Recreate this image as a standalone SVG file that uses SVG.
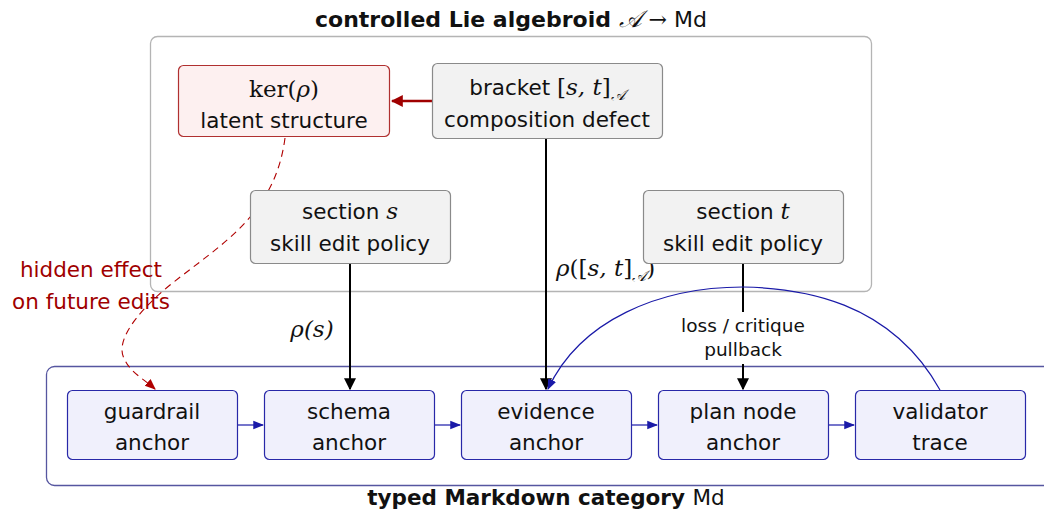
<svg xmlns="http://www.w3.org/2000/svg" width="1044" height="512" viewBox="0 0 1044 512">
<defs>
<style>
.t{font-family:"DejaVu Sans","Liberation Sans",sans-serif;font-size:21.5px;fill:#111;text-anchor:middle}
.m{font-family:"DejaVu Serif","Liberation Serif",serif;font-style:italic}
.mr{font-family:"DejaVu Serif","Liberation Serif",serif}
.b{font-weight:bold}
.gray{fill:#f2f2f2;stroke:#8a8a8a;stroke-width:1.2}
.red{fill:#fdf0f0;stroke:#b03030;stroke-width:1.2}
.blue{fill:#f0f0fc;stroke:#2828a8;stroke-width:1.2}
.blk{stroke:#000;stroke-width:2;fill:none}
.bl{stroke:#1a1aa8;stroke-width:1.2;fill:none}
</style>
<marker id="ak" viewBox="0 0 10 10" refX="9" refY="5" markerWidth="6" markerHeight="6" markerUnits="strokeWidth" orient="auto"><path d="M0,0 L10,5 L0,10 Z" fill="#000"/></marker>
<marker id="ab" viewBox="0 0 10 10" refX="9" refY="5" markerWidth="9" markerHeight="9" markerUnits="strokeWidth" orient="auto"><path d="M0,1 L10,5 L0,9 Z" fill="#1a1aa8"/></marker>
<marker id="ar" viewBox="0 0 10 10" refX="9" refY="5" markerWidth="5" markerHeight="5" markerUnits="strokeWidth" orient="auto"><path d="M0,0 L10,5 L0,10 Z" fill="#a00000"/></marker>
<marker id="ard" viewBox="0 0 10 10" refX="9" refY="5" markerWidth="10" markerHeight="10" markerUnits="strokeWidth" orient="auto"><path d="M0,1 L10,5 L0,9 Z" fill="#b00000"/></marker>
</defs>

<g id="frames">
<rect x="150.5" y="36.5" width="721" height="255" rx="7" fill="none" stroke="#b4b4b4" stroke-width="1.3"/>
<text x="511" y="27" class="t" style="font-size:22px"><tspan class="b">controlled Lie algebroid </tspan><tspan class="m" style="font-size:24px">𝒜</tspan><tspan class="mr"> → </tspan>Md</text>
<rect x="46.5" y="366.5" width="1010" height="119" rx="8" fill="none" stroke="#5656a0" stroke-width="1.3"/>
<text x="546" y="505" class="t" style="font-size:21.5px"><tspan class="b">typed Markdown category </tspan>Md</text>
</g>

<g id="connectors">
<line x1="432" y1="101" x2="392" y2="101" stroke="#a00000" stroke-width="2.4" marker-end="url(#ar)"/>
<line x1="546" y1="139" x2="546" y2="389" class="blk" marker-end="url(#ak)"/>
<line x1="350" y1="264" x2="350" y2="389" class="blk" marker-end="url(#ak)"/>
<line x1="743" y1="264" x2="743" y2="312" class="blk"/>
<line x1="743" y1="364" x2="743" y2="389" class="blk" marker-end="url(#ak)"/>
<path d="M940,390 C890,300 800,288 743,287 C660,287 580,320 548,389" class="bl" marker-end="url(#ab)"/>
<path d="M285,138 C275,215 220,245 170,285 C130,318 115,345 125,360 C130,372 145,380 155,389" fill="none" stroke="#b00000" stroke-width="1.1" stroke-dasharray="7,5" marker-end="url(#ard)"/>
<line x1="238" y1="425" x2="263" y2="425" class="bl" marker-end="url(#ab)"/>
<line x1="435" y1="425" x2="460" y2="425" class="bl" marker-end="url(#ab)"/>
<line x1="632" y1="425" x2="657" y2="425" class="bl" marker-end="url(#ab)"/>
<line x1="829" y1="425" x2="854" y2="425" class="bl" marker-end="url(#ab)"/>
<text x="312" y="337" class="t m" style="font-size:23px">ρ(s)</text>
<text x="556" y="276" class="t" style="font-size:23px;text-anchor:start"><tspan class="m">ρ</tspan><tspan class="mr">([</tspan><tspan class="m">s, t</tspan><tspan class="mr">]</tspan><tspan class="m" dy="5" style="font-size:15px">𝒜</tspan><tspan class="mr" dy="-5">)</tspan></text>
<rect x="676" y="313" width="134" height="50" fill="#fff"/>
<text x="743" y="332" class="t" style="font-size:18.5px">loss / critique</text>
<text x="743" y="356" class="t" style="font-size:18.5px">pullback</text>
<text x="91" y="277" class="t" style="fill:#a00000">hidden effect</text>
<text x="91" y="309" class="t" style="fill:#a00000">on future edits</text>
</g>

<g id="ker">
<rect x="178.5" y="65.5" width="211" height="71" rx="5" class="red"/>
<text x="284" y="97" class="t mr" style="font-style:normal;font-size:23px">ker(<tspan class="m">ρ</tspan>)</text>
<text x="284" y="128" class="t">latent structure</text>
</g>
<g id="bracket">
<rect x="432.5" y="63.5" width="230" height="75" rx="5" class="gray"/>
<text x="547" y="95" class="t">bracket <tspan class="mr" style="font-size:23px">[</tspan><tspan class="m" style="font-size:23px">s, t</tspan><tspan class="mr" style="font-size:23px">]</tspan><tspan class="m" dy="5" style="font-size:15px">𝒜</tspan></text>
<text x="547" y="127" class="t">composition defect</text>
</g>
<g id="section_s">
<rect x="250.5" y="190.5" width="200" height="73" rx="5" class="gray"/>
<text x="350" y="219" class="t">section <tspan class="m" style="font-size:23px">s</tspan></text>
<text x="350" y="251" class="t">skill edit policy</text>
</g>
<g id="section_t">
<rect x="643.5" y="190.5" width="200" height="73" rx="5" class="gray"/>
<text x="743" y="219" class="t">section <tspan class="m" style="font-size:23px">t</tspan></text>
<text x="743" y="251" class="t">skill edit policy</text>
</g>
<g id="guardrail">
<rect x="67.5" y="390.5" width="170" height="69" rx="5" class="blue"/>
<text x="152" y="419" class="t">guardrail</text>
<text x="152" y="450" class="t">anchor</text>
</g>
<g id="schema">
<rect x="264.5" y="390.5" width="170" height="69" rx="5" class="blue"/>
<text x="349" y="419" class="t">schema</text>
<text x="349" y="450" class="t">anchor</text>
</g>
<g id="evidence">
<rect x="461.5" y="390.5" width="170" height="69" rx="5" class="blue"/>
<text x="546" y="419" class="t">evidence</text>
<text x="546" y="450" class="t">anchor</text>
</g>
<g id="plan">
<rect x="658.5" y="390.5" width="170" height="69" rx="5" class="blue"/>
<text x="743" y="419" class="t">plan node</text>
<text x="743" y="450" class="t">anchor</text>
</g>
<g id="validator">
<rect x="855.5" y="390.5" width="170" height="69" rx="5" class="blue"/>
<text x="940" y="419" class="t">validator</text>
<text x="940" y="450" class="t">trace</text>
</g>
</svg>
